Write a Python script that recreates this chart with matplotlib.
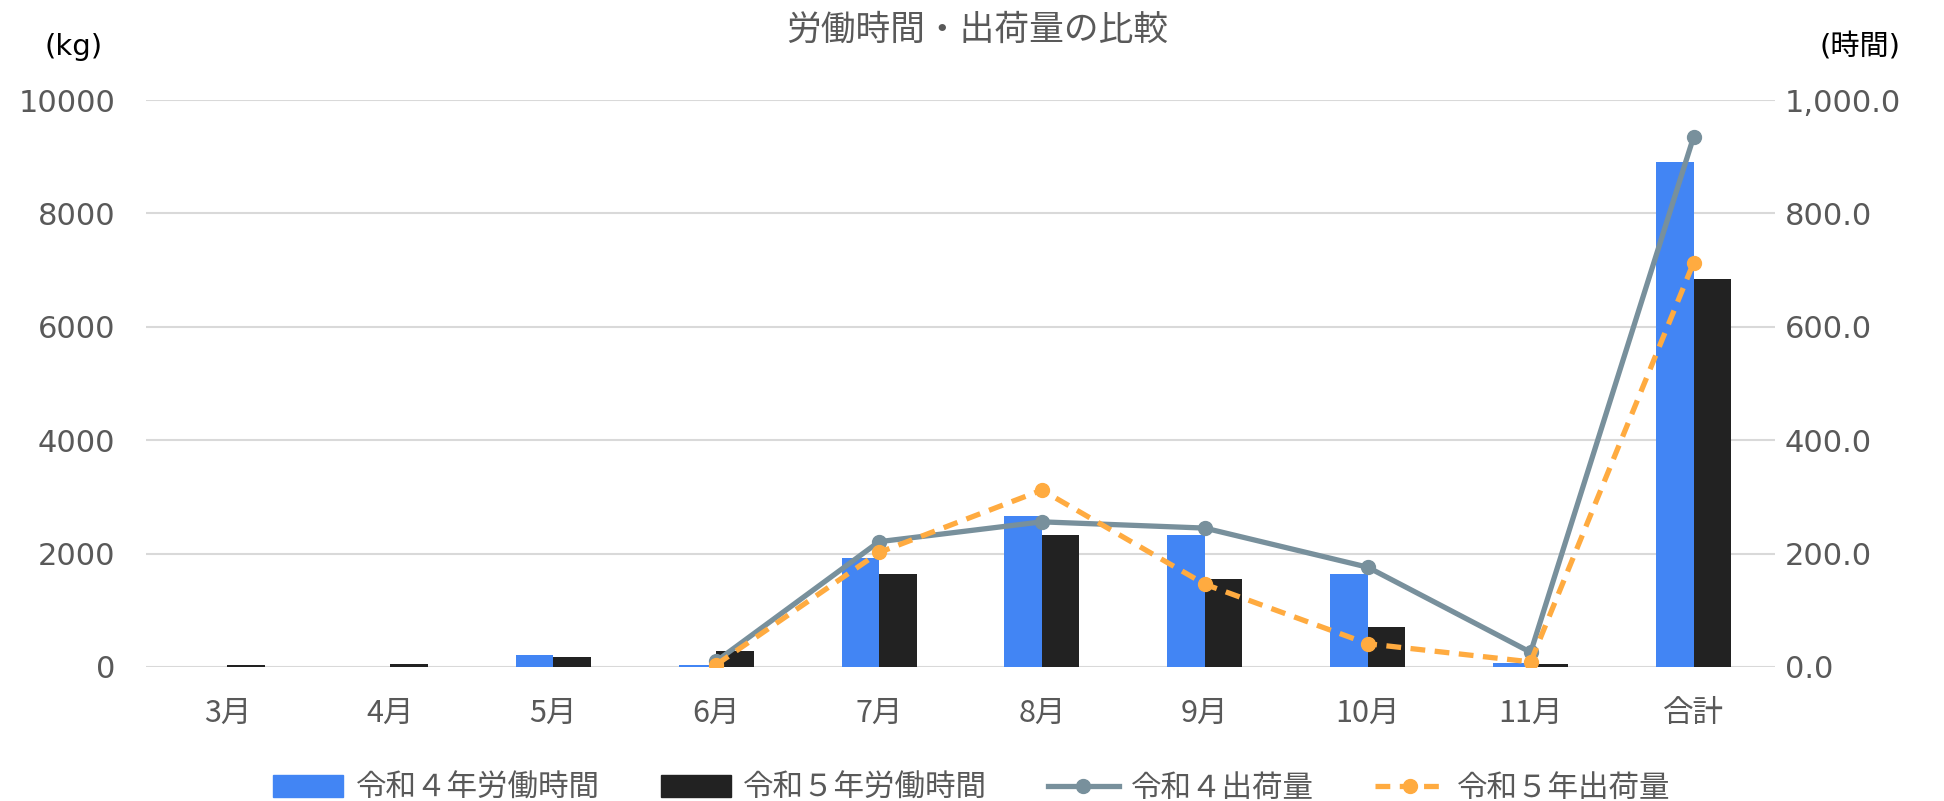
import numpy as np
import matplotlib.pyplot as plt
from matplotlib.lines import Line2D
from matplotlib.patches import Patch

plt.rcParams['font.family'] = ['DejaVu Sans', 'Noto Sans CJK JP']

# ==========================================================
# DATA
# ==========================================================

months = ["3月", "4月", "5月", "6月", "7月", "8月", "9月", "10月", "11月", "合計"]

hours_r4 = [0, 0, 21.8, 4.0, 192.4, 265.9, 233.5, 164.7, 7.0, 890.0]
hours_r5 = [3.5, 5.9, 18.2, 29.0, 163.5, 233.5, 154.7, 70.0, 5.3, 684.0]

ship_r4 = [np.nan, np.nan, np.nan, 100, 2210, 2560, 2450, 1760, 260, 9345]
ship_r5 = [np.nan, np.nan, np.nan, 40, 2020, 3120, 1460, 410, 90, 7130]

labels = ["令和４年労働時間", "令和５年労働時間", "令和４出荷量", "令和５年出荷量"]

# ==========================================================
# COLORS
# ==========================================================

c_blue = "#4285f4"
c_black = "#222222"
c_gray = "#78909c"
c_orange = "#ffab40"
c_text = "#595959"

LW = 3.8
MS = 10
DASH = (0, (2.8, 1.8))

# ==========================================================
# FIGURE
# ==========================================================

fig = plt.figure(figsize=(19.44, 8.01), dpi=100)
ax = fig.add_axes([146/1944, 1-667/801, (1775-146)/1944, (667-100)/801])

x = np.arange(len(months))
w = 0.23

# bars (hours) on ax, ticks shown on right side
ax.bar(x - w/2, hours_r4, w, color=c_blue, zorder=2)
ax.bar(x + w/2, hours_r5, w, color=c_black, zorder=2)
ax.set_ylim(0, 1000)
ax.set_yticks(np.arange(0, 1001, 200))
ax.set_yticklabels(["{:,.1f}".format(v) for v in np.arange(0, 1001, 200)])
ax.grid(axis="y", color="#d9d9d9", linewidth=1.5, zorder=0)
ax.set_axisbelow(True)

# lines (kg) on twin axis, ticks on left
ax2 = ax.twinx()
ax2.plot(x, ship_r4, color=c_gray, lw=LW, marker="o", markersize=MS, zorder=3)
ax2.plot(x, ship_r5, color=c_orange, lw=LW, ls=DASH, marker="o",
         markersize=MS, zorder=3)
ax2.set_ylim(0, 10000)
ax2.set_yticks(np.arange(0, 10001, 2000))

# swap sides after twinx
ax.yaxis.tick_right()
ax2.yaxis.tick_left()

ax.set_xlim(-0.5, len(months) - 0.5)
ax.set_xticks(x)
ax.set_xticklabels(months, family="Noto Sans CJK JP")

for a in (ax, ax2):
    for s in a.spines.values():
        s.set_visible(False)
    a.tick_params(length=0, labelsize=22, colors=c_text)

ax.tick_params(axis="x", labelsize=22, pad=22)
ax.tick_params(axis="y", pad=7)
ax2.tick_params(axis="y", pad=22)

# ==========================================================
# TEXT
# ==========================================================

fig.text(977/1944, 1-30/801, "労働時間・出荷量の比較", ha="center", va="center",
         fontsize=25, color=c_text)
fig.text(74/1944, 1-47/801, "(kg)", ha="center", va="center", fontsize=21,
         color="black")
fig.text(1860/1944, 1-47/801, "(時間)", ha="center", va="center", fontsize=21,
         color="black")

# ==========================================================
# LEGEND
# ==========================================================

handles = [
    Patch(color=c_blue),
    Patch(color=c_black),
    Line2D([], [], color=c_gray, lw=LW, marker="o", markersize=MS),
    Line2D([], [], color=c_orange, lw=LW, ls=DASH, marker="o", markersize=MS),
]
leg = fig.legend(handles, labels, loc="center", bbox_to_anchor=(0.5, 1-788/801),
                 ncol=4, frameon=False, fontsize=22, handlelength=2.3,
                 handleheight=0.75, columnspacing=2.0, handletextpad=0.4)
for t in leg.get_texts():
    t.set_color(c_text)

plt.savefig("out.png", dpi=100)
